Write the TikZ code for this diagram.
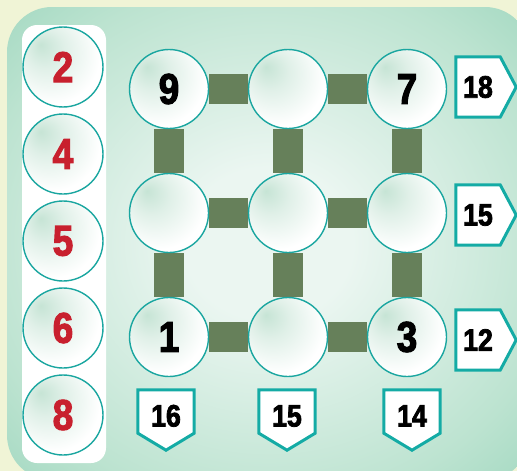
\documentclass[tikz,border=0pt]{standalone}
\usepackage{fontspec}
\newfontfamily\numfont{Liberation Sans}[FakeStretch=0.86, BoldFeatures={FakeBold=2.5}]
\pgfdeclarelayer{back}
\pgfdeclarelayer{mid}
\pgfsetlayers{back,mid,main}
\definecolor{bgY}{HTML}{F0F4D6}
\definecolor{panIn}{HTML}{EBF6F1}
\definecolor{panMid}{HTML}{BCE3D0}
\definecolor{panOut}{HTML}{88CDB1}
\definecolor{tealA}{HTML}{1AA6A0}
\definecolor{tealB}{HTML}{14ABA5}
\definecolor{numRed}{HTML}{C8202E}
\definecolor{barG}{HTML}{66805A}
\definecolor{bubG}{HTML}{C6E4D5}
\definecolor{bubG2}{HTML}{E0F0E8}
\pgfdeclareradialshading{bubble}{\pgfpoint{-14bp}{14bp}}{color(0bp)=(bubG); color(12bp)=(bubG2); color(30bp)=(white); color(60bp)=(white)}
\pgfdeclareradialshading{panelshade}{\pgfpoint{0bp}{0bp}}{color(0bp)=(panIn); color(8bp)=(panIn); color(28bp)=(panMid); color(45bp)=(panOut); color(80bp)=(panOut)}
\tikzset{
  bub/.style={circle, minimum size=79pt, inner sep=0pt, draw=tealA, line width=1.4pt, shade, shading=bubble,
    font=\numfont\bfseries\fontsize{43}{43}\selectfont},
  redbub/.style={bub, minimum size=80pt, text=numRed},
  bar/.style={draw=barG, line width=30pt},
  rtag/.style={minimum width=44pt, minimum height=60pt, inner sep=0pt,
    font=\numfont\bfseries\fontsize{31}{31}\selectfont},
  btag/.style={minimum width=56pt, minimum height=43pt, inner sep=0pt, text height=30pt, text depth=0pt,
    font=\numfont\bfseries\fontsize{31}{31}\selectfont},
  tagline/.style={draw=tealB, line width=3pt, fill=white, line join=miter}
}
\begin{document}
\begin{tikzpicture}[x=1pt,y=-1pt]
\useasboundingbox (0,0) rectangle (517,471);
\begin{pgfonlayer}{back}
\fill[bgY] (0,0) rectangle (517,471);
\shade[shading=panelshade, rounded corners=45pt] (7,7) rectangle (530,480);
\fill[white, rounded corners=15pt] (22,25) rectangle (106,463);
\end{pgfonlayer}
% left column
\node[redbub] (l1) at (63,67) {2};
\node[redbub] (l2) at (63,154) {4};
\node[redbub] (l3) at (63,241) {5};
\node[redbub] (l4) at (63,328) {6};
\node[redbub] (l5) at (63,415) {8};
% grid
\node[bub] (g11) at (169,89) {9};
\node[bub] (g12) at (288,89) {};
\node[bub] (g13) at (407,89) {7};
\node[bub] (g21) at (169,213) {};
\node[bub] (g22) at (288,213) {};
\node[bub] (g23) at (407,213) {};
\node[bub] (g31) at (169,337) {1};
\node[bub] (g32) at (288,337) {};
\node[bub] (g33) at (407,337) {3};
\begin{pgfonlayer}{mid}
\draw[bar] (g11) -- (g12);
\draw[bar] (g12) -- (g13);
\draw[bar] (g21) -- (g22);
\draw[bar] (g22) -- (g23);
\draw[bar] (g31) -- (g32);
\draw[bar] (g32) -- (g33);
\draw[bar] (g11) -- (g21);
\draw[bar] (g21) -- (g31);
\draw[bar] (g12) -- (g22);
\draw[bar] (g22) -- (g32);
\draw[bar] (g13) -- (g23);
\draw[bar] (g23) -- (g33);
\end{pgfonlayer}
% right tags
\node[rtag] (r1) at (478,87) {18};
\node[rtag] (r2) at (478,215) {15};
\node[rtag] (r3) at (478,340) {12};
% bottom tags
\node[btag] (b1) at (166,411.5) {16};
\node[btag] (b2) at (287,411.5) {15};
\node[btag] (b3) at (412,411.5) {14};
\begin{pgfonlayer}{mid}
\foreach \t in {r1,r2,r3}{
  \draw[tagline] (\t.north west) -- (\t.north east) -- ([xshift=16pt]\t.east) -- (\t.south east) -- (\t.south west) -- cycle;
}
\foreach \t in {b1,b2,b3}{
  \draw[tagline] (\t.north west) -- (\t.north east) -- (\t.south east) -- ([yshift=-17pt]\t.south) -- (\t.south west) -- cycle;
}
\end{pgfonlayer}
\end{tikzpicture}
\end{document}
